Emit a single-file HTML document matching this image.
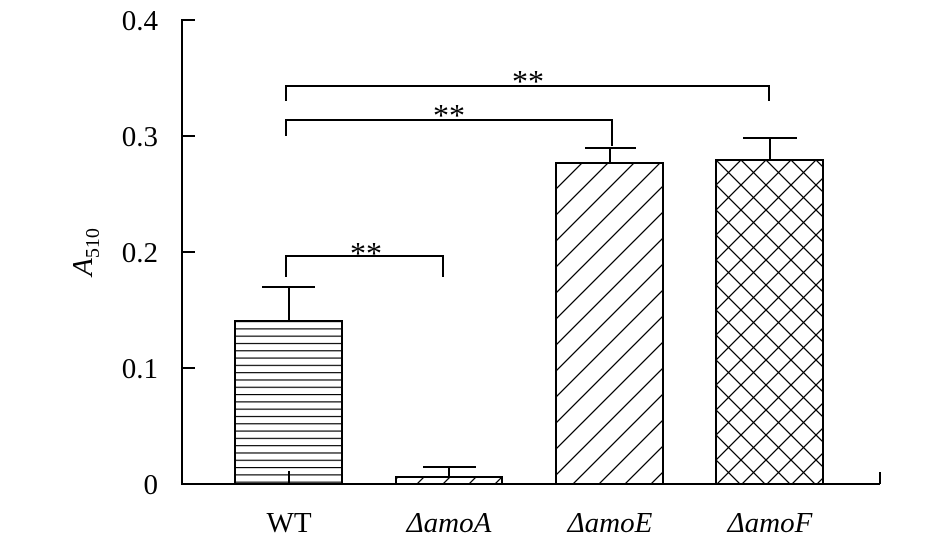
<!DOCTYPE html>
<html><head><style>body{margin:0;background:#fff}svg{display:block}</style></head><body>
<svg width="945" height="545" xmlns="http://www.w3.org/2000/svg" font-family="Liberation Serif, serif">
<defs>
<pattern id="h" width="10" height="7.3" patternUnits="userSpaceOnUse" y="321"><line x1="0" y1="0.5" x2="10" y2="0.5" stroke="#000" stroke-width="1.3"/></pattern>
<pattern id="d" width="26" height="26" patternUnits="userSpaceOnUse" x="556" y="163"><path d="M-2,28 L28,-2 M-8,8 L8,-8 M18,34 L34,18" stroke="#000" stroke-width="1.3"/></pattern>
<pattern id="x" width="25" height="25" patternUnits="userSpaceOnUse" x="716" y="160"><path d="M-2,27 L27,-2 M-2,-2 L27,27 M-8,8 L8,-8 M17,33 L33,17 M-8,17 L8,33 M17,-8 L33,8" stroke="#000" stroke-width="1.3"/></pattern>
</defs>
<g stroke="#000" stroke-width="2" fill="none">
<line x1="182" y1="19" x2="182" y2="485"/>
<line x1="181" y1="484" x2="880" y2="484"/>
<line x1="880" y1="484" x2="880" y2="472"/>
<line x1="182" y1="20" x2="195" y2="20"/>
<line x1="182" y1="136" x2="195" y2="136"/>
<line x1="182" y1="252" x2="195" y2="252"/>
<line x1="182" y1="368" x2="195" y2="368"/>
<rect x="235" y="321" width="107" height="163" fill="url(#h)"/>
<rect x="396" y="477" width="106" height="7" fill="url(#d)"/>
<rect x="556" y="163" width="107" height="321" fill="url(#d)"/>
<rect x="716" y="160" width="107" height="324" fill="url(#x)"/>
<line x1="289" y1="484" x2="289" y2="471"/>
<line x1="289" y1="321" x2="289" y2="287"/><line x1="262" y1="287" x2="315" y2="287"/>
<line x1="449" y1="477" x2="449" y2="467"/><line x1="423" y1="467" x2="476" y2="467"/>
<line x1="610" y1="163" x2="610" y2="148"/><line x1="585" y1="148" x2="636" y2="148"/>
<line x1="770" y1="160" x2="770" y2="138"/><line x1="743" y1="138" x2="797" y2="138"/>
<path d="M286,277 V256 H443 V277"/>
<path d="M286,136 V120 H612 V146"/>
<path d="M286,101 V86 H769 V101"/>
</g>
<g font-size="29" text-anchor="end">
<text x="158" y="30">0.4</text><text x="158" y="146">0.3</text><text x="158" y="262">0.2</text><text x="158" y="378">0.1</text><text x="158" y="494">0</text>
</g>
<g font-size="32" text-anchor="middle">
<text x="366" y="264">**</text><text x="449" y="126">**</text><text x="528" y="92">**</text>
</g>
<g font-size="29" text-anchor="middle">
<text x="289" y="532">WT</text>
<text x="449" y="532" font-style="italic">ΔamoA</text>
<text x="610" y="532" font-style="italic">ΔamoE</text>
<text x="770" y="532" font-style="italic">ΔamoF</text>
</g>
<text transform="translate(92,252) rotate(-90)" font-size="29" text-anchor="middle"><tspan font-style="italic">A</tspan><tspan font-size="20" dy="7">510</tspan></text>
</svg>
</body></html>
